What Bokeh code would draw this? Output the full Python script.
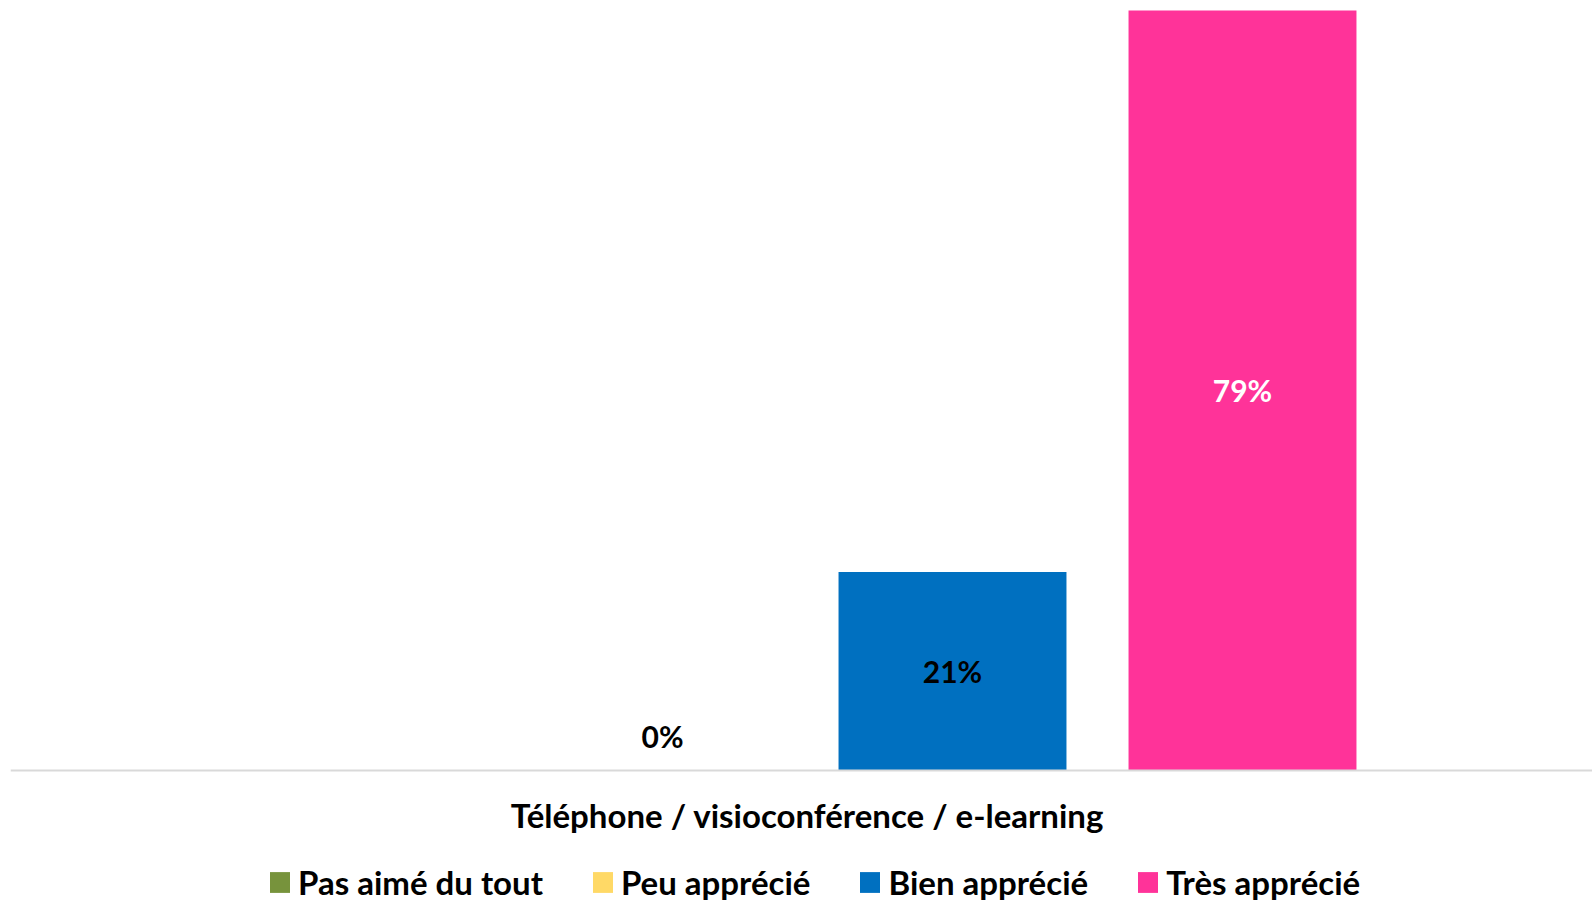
import math
from bokeh.plotting import figure
from bokeh.models import ColumnDataSource, Range1d, Span, Legend, LegendItem
from bokeh.core.properties import value
from bokeh.embed import file_html
from bokeh.resources import INLINE

# ---- data ----
category = "Téléphone / visioconférence / e-learning"
series = ["Pas aimé du tout", "Peu apprécié", "Bien apprécié", "Très apprécié"]
values = [float("nan"), 0.0, 20.7, 79.3]  # percent; first series has no data

# ---- style ----
colors = ["#77933C", "#FFD966", "#0070C0", "#FF3399"]
label_colors = ["#000000", "#000000", "#000000", "#FFFFFF"]
FONT = "Lato"

W, H = 1592, 902
x_start, x_end = -1.2483, 4.2069
y_start, y_end = -13.773, 80.343

p = figure(width=W, height=H, output_backend="svg", toolbar_location=None,
           x_range=Range1d(x_start, x_end), y_range=Range1d(y_start, y_end),
           min_border=0, min_border_left=10, outline_line_color=None,
           x_axis_type=None, y_axis_type=None)
p.grid.visible = False
p.background_fill_color = "white"
p.border_fill_color = "white"

idx = list(range(len(series)))
src = ColumnDataSource(dict(x=idx, top=values, color=colors, series=series))
bars = p.vbar(x="x", top="top", bottom=0, width=0.786, fill_color="color",
              line_color=None, source=src)

# baseline (category axis line)
p.add_layout(Span(location=0, dimension="width", line_color="#D9D9D9", line_width=2))

# data labels
lx, ly, lt, lc, lo = [], [], [], [], []
for i, v in enumerate(values):
    if isinstance(v, float) and math.isnan(v):
        continue
    lx.append(i)
    ly.append(v / 2 if v > 0 else 0)
    lt.append(f"{round(v)}%")
    lc.append(label_colors[i])
    lo.append(-35 if v == 0 else 0)
lsrc = ColumnDataSource(dict(x=lx, y=ly, t=lt, c=lc, o=lo))
p.text(x="x", y="y", text="t", text_color="c", y_offset="o", source=lsrc,
       text_align="center", text_baseline="middle",
       text_font=value(FONT), text_font_style="bold", text_font_size="30px")

# category label
csrc = ColumnDataSource(dict(x=[(len(series) - 1) / 2], y=[0], t=[category]))
p.text(x="x", y="y", text="t", source=csrc, y_offset=44,
       text_align="center", text_baseline="middle", text_color="#000000",
       text_font=value(FONT), text_font_style="bold", text_font_size="33px")

# legend
items = [LegendItem(label=s, renderers=[bars], index=i) for i, s in enumerate(series)]
legend = Legend(items=items, orientation="horizontal", location=(257, 0),
                glyph_width=25, glyph_height=26, label_standoff=6, spacing=47,
                padding=0, margin=0, border_line_alpha=0, background_fill_alpha=0,
                label_text_font=FONT, label_text_font_style="bold",
                label_text_font_size="33px", label_text_color="#000000",
                label_text_baseline="middle")
p.add_layout(legend, "center")

open("out.html", "w").write(file_html(p, INLINE))
